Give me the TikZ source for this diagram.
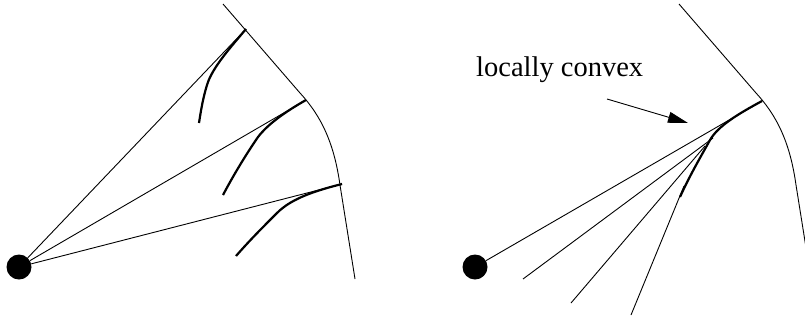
\documentclass[tikz,border=0pt]{standalone}
\usepackage{fontspec}
\setmainfont{Liberation Serif}
\usetikzlibrary{arrows.meta}

\tikzset{
    ray/.style={line width=0.9pt},
    front/.style={line width=2.2pt},
    source/.style={circle, fill, inner sep=0pt, minimum size=25pt},
}

\begin{document}
\begin{tikzpicture}[x=1pt, y=-1pt]
    \clip (0,0) rectangle (805,322);

    % Left: source, rays and wave pieces
    \node[source] (srcL) at (19,267) {};
    \coordinate (tipA) at (246,29);
    \coordinate (tipB) at (306,100);
    \coordinate (tipC) at (342,184);
    \draw[ray] (223,4) -- (300,93) .. controls (325,120) and (335,150) .. (340,185) -- (355,279);
    \draw[ray] (srcL) -- (tipA);
    \draw[ray] (srcL) -- (tipB);
    \draw[ray] (srcL) -- (tipC);
    \draw[front] (tipA) .. controls (230,48) and (212,68) .. (207,85)
        .. controls (203,98) and (201,110) .. (199,123);
    \draw[front] (tipB) .. controls (285,112) and (268,124) .. (258,137)
        .. controls (245,156) and (233,176) .. (223,195);
    \draw[front] (tipC) .. controls (310,192) and (290,200) .. (277,213)
        .. controls (262,228) and (250,240) .. (236,256);

    % Right: source, ray and tangent lines
    \node[source] (srcR) at (475,267) {};
    \coordinate (tipR) at (762,101);
    \draw[ray] (679,4) -- (756,93) .. controls (781,120) and (791,150) .. (796,185) -- (811,279);
    \draw[ray] (srcR) -- (tipR);
    \draw[front] (tipR) .. controls (738,114) and (718,126) .. (710,140)
        .. controls (700,158) and (690,175) .. (680,197);
    \coordinate (lnA) at (523,279);
    \coordinate (lnB) at (571,303);
    \coordinate (lnC) at (631,315);
    \coordinate (touchA) at (713,138);
    \coordinate (touchB) at (705,146);
    \coordinate (touchC) at (684,186);
    \draw[ray] (lnA) -- (touchA);
    \draw[ray] (lnB) -- (touchB);
    \draw[ray] (lnC) -- (touchC);

    % Label and arrow
    \node[anchor=base west, inner sep=0pt, font=\fontsize{28.5}{34}\selectfont] (lbl) at (476,76) {locally convex};
    \coordinate (arrTail) at (607,99);
    \coordinate (arrHead) at (688,123);
    \draw[ray, -{Triangle[length=20pt,width=11pt]}] (arrTail) -- (arrHead);
\end{tikzpicture}
\end{document}
